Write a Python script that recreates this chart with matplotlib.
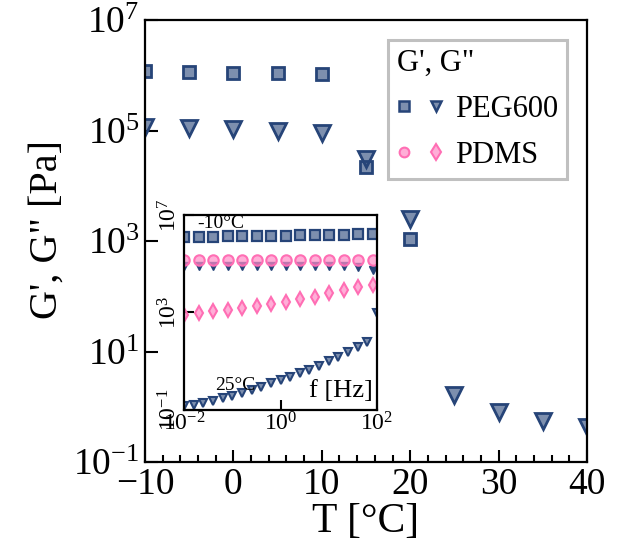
import matplotlib
matplotlib.use("Agg")
import matplotlib.pyplot as plt
from matplotlib.lines import Line2D
from matplotlib.legend_handler import HandlerTuple
import numpy as np

plt.rcParams['font.family'] = ['Liberation Serif', 'DejaVu Serif']
plt.rcParams['mathtext.fontset'] = 'custom'
plt.rcParams['mathtext.rm'] = 'Liberation Serif'
plt.rcParams['mathtext.it'] = 'Liberation Serif:italic'

# temperature sweep, PEG600
T_gp = [-10, -5, 0, 5, 10, 15, 20]
Gp_peg = [1.2e6, 1.15e6, 1.1e6, 1.1e6, 1.05e6, 2.2e4, 1.1e3]
T_gpp = [-10, -5, 0, 5, 10, 15, 20, 25, 30, 35, 40]
Gpp_peg = [1.15e5, 1.12e5, 1.07e5, 9.8e4, 9.0e4, 3.0e4, 2.5e3, 1.6, 0.8, 0.55, 0.43]

# frequency sweeps (inset)
f_sweep = [0.01, 0.02, 0.04, 0.08, 0.16, 0.32, 0.64, 1.28, 2.56, 5.12, 10.24, 20.48, 40.96, 81.92]
Gp_peg_m10 = [1.25e6, 1.27e6, 1.3e6, 1.32e6, 1.35e6, 1.37e6, 1.4e6, 1.43e6, 1.46e6, 1.5e6,
              1.53e6, 1.57e6, 1.6e6, 1.65e6]
Gpp_peg_m10 = [8.2e4, 8.0e4, 8.0e4, 8.0e4, 8.0e4, 8.1e4, 8.2e4, 8.2e4, 8.3e4, 8.3e4,
               8.2e4, 8.0e4, 7.6e4, 5.5e4]
Gp_pdms = [1.45e5, 1.45e5, 1.45e5, 1.45e5, 1.45e5, 1.45e5, 1.45e5, 1.46e5, 1.46e5, 1.46e5,
           1.46e5, 1.46e5, 1.45e5, 1.42e5]
Gpp_pdms = [794, 933, 1120, 1290, 1585, 1860, 2340, 2820, 3470, 4470, 6030, 8130, 10700, 13500]

f_25 = [0.01, 0.0158, 0.0251, 0.0398, 0.0631, 0.1, 0.158, 0.251, 0.398, 0.631, 1.0,
        1.58, 2.51, 3.98, 6.31, 10.0, 15.8, 25.1, 39.8, 63.1, 100.0]
Gpp_peg_25 = [0.15, 0.16, 0.19, 0.24, 0.31, 0.38, 0.49, 0.68, 0.91, 1.26, 1.74,
              2.24, 3.24, 4.47, 6.46, 9.8, 15.5, 25.1, 39.8, 64.6, 955]

navy = '#264478'
navy_face = (38/255, 68/255, 120/255, 0.6)
pink = '#ff6eb4'
pink_face = (1.0, 0.55, 0.78, 0.7)

fig = plt.figure(figsize=(6.19, 5.51), dpi=100)
ax = fig.add_axes([0.2343, 0.1615, 0.7140, 0.8022])

ax.plot(T_gp, Gp_peg, 's', ms=8.5, mfc=navy_face, mec=navy, mew=2.0, ls='')
ax.plot(T_gpp, Gpp_peg, 'v', ms=11, mfc=navy_face, mec=navy, mew=2.0, ls='')

ax.set_yscale('log')
ax.set_xlim(-10, 40)
ax.set_ylim(1e-1, 1e7)
ax.set_yticks([1e-1, 1e1, 1e3, 1e5, 1e7])
ax.yaxis.set_minor_locator(matplotlib.ticker.NullLocator())
ax.set_xticks([-10, 0, 10, 20, 30, 40])
ax.xaxis.set_minor_locator(matplotlib.ticker.MultipleLocator(2))
ax.tick_params(which='both', direction='in', labelsize=27, width=1.5)
ax.tick_params(which='major', length=9, pad=4)
ax.tick_params(which='minor', length=5)
for s in ax.spines.values():
    s.set_linewidth(1.6)

ax.set_xlabel('T [°C]', fontsize=30, labelpad=0)
ax.set_ylabel('G\', G" [Pa]', fontsize=29)
ax.yaxis.set_label_coords(-0.18, 0.525)

# legend: G' and G" markers side by side
h_peg = (Line2D([], [], marker='s', ms=6.5, mfc=navy_face, mec=navy, mew=1.8, ls=''),
         Line2D([], [], marker='v', ms=7.5, mfc=navy_face, mec=navy, mew=1.8, ls=''))
h_pdms = (Line2D([], [], marker='o', ms=7, mfc=pink_face, mec=pink, mew=1.5, ls=''),
          Line2D([], [], marker='d', ms=8, mfc=pink_face, mec=pink, mew=1.5, ls=''))
leg = ax.legend([h_peg, h_pdms], ['PEG600', 'PDMS'], title='G\', G"',
                handler_map={tuple: HandlerTuple(ndivide=None, pad=0.6)},
                loc='upper right', bbox_to_anchor=(0.955, 0.955), borderaxespad=0,
                fontsize=22, title_fontsize=22, fancybox=False, framealpha=1,
                handlelength=1.5, handletextpad=0.4, borderpad=0.3,
                labelspacing=0.55, alignment='left')
leg.get_frame().set_edgecolor('#c0c0c0')
leg.get_frame().set_linewidth(2.2)

# inset: frequency sweeps
axin = fig.add_axes([0.2973, 0.2559, 0.3118, 0.3539])
axin.plot(f_sweep, Gp_peg_m10, 's', ms=7, mfc=navy_face, mec=navy, mew=1.6, ls='')
axin.plot(f_sweep, Gpp_peg_m10, 'v', ms=6, mfc=navy, mec=navy, mew=1.0, ls='')
axin.plot(f_sweep, Gp_pdms, 'o', ms=7.5, mfc=pink_face, mec=pink, mew=1.5, ls='')
axin.plot(f_sweep, Gpp_pdms, 'd', ms=7.5, mfc=pink_face, mec=pink, mew=1.5, ls='')
axin.plot(f_25, Gpp_peg_25, 'v', ms=5.5, mfc=navy_face, mec=navy, mew=1.5, ls='')

axin.set_xscale('log')
axin.set_yscale('log')
axin.set_xlim(1e-2, 1e2)
axin.set_ylim(1e-1, 1e7)
axin.set_xticks([1e-2, 1e0, 1e2])
axin.set_yticks([1e-1, 1e3, 1e7])
axin.xaxis.set_minor_locator(matplotlib.ticker.NullLocator())
axin.yaxis.set_minor_locator(matplotlib.ticker.NullLocator())
axin.tick_params(direction='in', length=7, width=1.5, labelsize=17, pad=2)
for lab in axin.get_yticklabels():
    lab.set_rotation(90)
    lab.set_va('center')
for s in axin.spines.values():
    s.set_linewidth(1.6)

axin.text(0.19, 0.955, '-10°C', transform=axin.transAxes, fontsize=14, ha='center', va='center')
axin.text(0.265, 0.125, '25°C', transform=axin.transAxes, fontsize=14, ha='center', va='center')
axin.text(0.98, 0.04, 'f [Hz]', transform=axin.transAxes, fontsize=19, ha='right', va='bottom')

fig.savefig('out.png', dpi=100)
